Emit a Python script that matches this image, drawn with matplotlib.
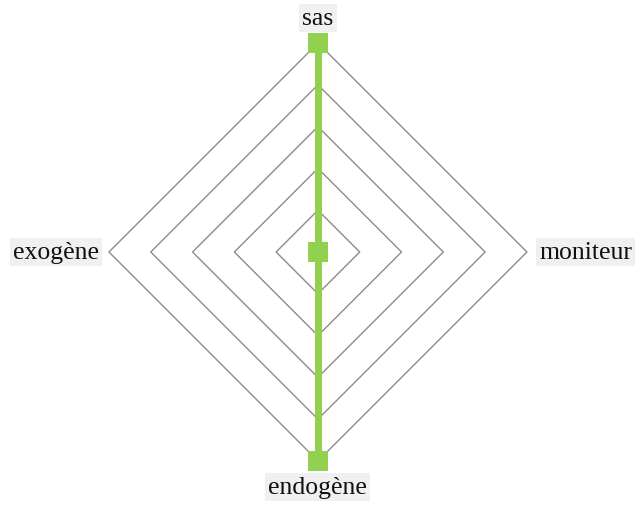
import matplotlib
matplotlib.use("Agg")
import matplotlib.pyplot as plt
import numpy as np

# Radar data
categories = ["sas", "moniteur", "endogène", "exogène"]
values = [5, 0, 5, 0]
levels = [1, 2, 3, 4, 5]

plt.rcParams['font.family'] = ['Liberation Serif', 'DejaVu Serif']

fig = plt.figure(figsize=(6.41, 5.06), dpi=100)
ax = fig.add_axes([0.170, 0.087, 0.652, 0.826], projection='polar')
ax.set_theta_offset(np.pi / 2)
ax.set_theta_direction(-1)

angles = np.linspace(0, 2 * np.pi, len(categories), endpoint=False)
closed_angles = np.append(angles, angles[0])

# Diamond grid
for lev in levels:
    ax.plot(closed_angles, [lev] * len(closed_angles), color='#8c8c8c', lw=1.0,
            zorder=1, clip_on=False)

# Data series
closed_vals = values + values[:1]
ax.plot(closed_angles, closed_vals, color='#92d050', lw=5, zorder=3, clip_on=False)
ax.plot(angles, values, linestyle='none', marker='s', markersize=14, markeredgewidth=0,
        color='#92d050', zorder=4, clip_on=False)

ax.set_ylim(0, max(levels))
ax.grid(False)
ax.spines['polar'].set_visible(False)
ax.set_xticks([])
ax.set_yticks([])
ax.patch.set_alpha(0)

box = dict(boxstyle='square,pad=0.12', facecolor='#f0f0f0', edgecolor='none')
offsets = [(0, 10, 'center', 'bottom'), (9, 0, 'left', 'center'),
           (0, -11, 'center', 'top'), (-7, 0, 'right', 'center')]
for ang, name, (dx, dy, ha, va) in zip(angles, categories, offsets):
    ax.annotate(name, xy=(ang, max(levels)), xytext=(dx, dy), textcoords='offset points',
                ha=ha, va=va, fontsize=18.5, color='#111111', bbox=box, annotation_clip=False)

fig.savefig("out.png", dpi=100)
